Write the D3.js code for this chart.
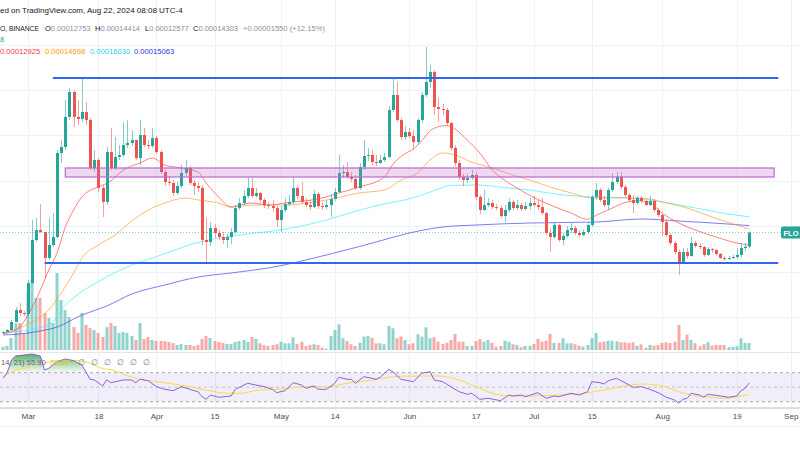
<!DOCTYPE html>
<html><head><meta charset="utf-8">
<script src="https://cdn.jsdelivr.net/npm/d3@7"></script>
<style>body{margin:0;background:#fff;overflow:hidden}svg{display:block;font-family:"Liberation Sans",Arial,sans-serif}</style>
</head><body>
<script>
// FLOKI/USDT daily, Binance. Prices in units of 1e-6 USDT, volume in billions
const firstDay = "2024-02-24";
const firstOpen = 32.4;
const closes = [33.5,35.7,44.5,57.7,54.4,53.3,
 87.4,134.8,145.8,143.6,115.0,129.3,138.1,230.6,237.2,270.3,297.8,270.3,268.1,275.8,267.0,214.1,222.9,192.1,176.7,231.7,214.1,226.2,228.4,239.4,241.6,244.9,225.1,250.4,239.4,238.3,247.1,
 231.7,209.7,198.7,197.6,186.6,194.3,208.6,214.1,197.6,194.3,192.1,134.8,132.6,148.0,142.5,138.1,134.8,138.1,143.6,170.0,175.5,183.3,192.1,183.3,186.6,178.9,173.3,172.2,170.0,156.8,
 167.8,174.4,176.7,192.1,183.3,176.7,173.3,171.1,185.5,172.2,171.1,173.3,180.0,187.7,208.6,209.7,204.2,202.0,192.1,215.2,227.3,228.4,220.7,219.6,222.9,226.2,278.0,294.5,267.0,248.2,253.7,
 249.3,242.7,267.0,294.5,308.8,319.8,281.3,279.1,278.0,263.7,236.1,219.6,204.2,200.9,203.1,206.4,182.2,167.8,173.3,175.5,171.1,170.0,161.2,167.8,176.7,170.0,173.3,168.9,172.2,175.5,
 173.3,171.1,164.5,142.5,138.1,151.3,134.8,139.2,145.8,148.0,142.5,140.3,143.6,151.3,182.2,189.9,178.9,173.3,189.9,198.7,204.2,193.2,184.4,178.9,175.5,181.1,177.8,173.3,177.8,167.8,162.3,
 154.6,140.3,131.5,121.6,110.6,121.6,117.2,131.5,128.2,127.1,118.3,124.9,123.8,119.4,115.0,113.9,115.0,116.1,118.3,126.0,127.53,143.03];
const highs = [34.6,36.8,46.7,61.0,65.4,56.6,
 90.8,156.8,159.0,174.5,143.6,159.0,164.5,233.9,244.9,289.0,302.2,300.0,289.0,312.1,286.8,269.2,233.9,225.1,195.4,237.2,258.1,248.2,239.4,264.8,267.0,255.9,244.9,267.0,258.1,244.9,258.1,
 249.3,233.9,211.9,205.3,200.9,198.7,217.4,222.9,216.3,200.9,198.7,195.4,159.0,154.6,152.4,145.8,143.6,141.4,148.0,173.3,181.1,190.0,204.2,204.2,192.1,187.7,181.1,176.7,178.9,172.2,
 172.2,181.1,184.4,204.2,194.3,198.7,181.1,178.9,189.9,187.7,176.7,178.9,185.5,192.1,228.4,217.4,220.7,209.7,206.4,219.6,244.9,236.1,233.9,228.4,228.4,230.6,282.4,313.2,308.8,269.2,260.3,
 258.1,255.9,269.2,297.8,347.4,327.5,322.0,291.2,284.6,280.2,264.8,239.4,222.9,207.5,207.5,211.9,209.7,184.4,189.9,181.1,178.9,174.4,173.3,173.3,181.1,178.9,178.9,175.6,176.7,181.1,
 183.3,178.9,181.1,165.6,148.0,154.6,152.4,142.5,150.2,153.5,150.2,145.8,146.9,154.6,184.4,197.6,192.1,183.3,192.1,208.6,209.7,209.7,195.4,186.6,184.4,183.3,183.3,179.9,183.3,180.0,170.0,
 163.4,156.8,142.5,133.7,123.8,125.9,125.9,138.1,133.7,131.5,128.2,127.1,126.0,124.9,120.5,117.2,117.2,118.3,126.0,131.5,131.5,144.14];
const lows = [31.3,32.4,34.6,44.5,51.1,51.1,
 51.1,86.3,132.6,142.5,93.0,112.8,127.1,137.0,219.6,233.9,267.0,259.3,261.5,264.8,261.5,211.9,209.7,187.7,160.1,173.3,211.9,211.9,222.9,226.2,236.1,238.3,222.9,217.4,237.2,235.0,236.1,
 229.5,207.5,194.3,194.3,183.3,184.4,192.1,205.3,195.4,184.4,187.7,129.3,110.6,128.2,137.0,134.8,130.4,126.0,130.4,141.4,167.8,173.3,181.1,181.1,181.1,175.6,170.0,168.9,165.6,149.1,
 143.6,165.6,172.2,174.4,180.0,174.4,171.1,167.8,170.0,168.9,167.8,168.9,160.1,177.8,186.6,203.1,202.0,198.7,189.9,189.9,211.9,221.8,217.4,216.3,218.5,220.7,225.1,275.8,264.8,244.9,244.9,
 247.1,233.9,239.4,263.7,292.3,302.2,272.5,264.8,272.5,261.5,233.9,216.3,200.9,194.3,197.6,200.9,178.9,163.4,166.7,171.1,168.9,167.8,159.0,154.6,165.6,167.8,167.8,166.7,167.8,167.8,
 171.1,167.8,162.3,140.3,121.6,135.9,132.6,129.3,137.0,142.5,140.3,138.1,139.2,141.4,149.1,178.9,176.7,171.1,167.8,187.7,196.5,191.0,182.2,176.7,164.5,173.3,175.5,172.2,172.2,165.6,160.1,
 139.2,138.1,129.3,119.4,96.3,109.5,113.9,116.1,126.0,124.9,116.1,117.2,120.5,117.2,113.9,111.7,112.8,113.9,113.9,115.0,122.7,125.77];
const volumes = [30,40,120,270,270,170,
 600,700,520,520,370,320,270,770,500,400,330,230,170,370,250,220,200,170,130,230,270,240,170,180,170,140,100,270,110,130,100,
 90,90,90,80,70,50,60,50,50,40,50,110,140,120,90,80,70,60,60,80,90,100,80,130,110,67,50,40,50,57,
 83,67,67,127,60,83,40,50,57,50,23,13,140,200,257,117,90,57,40,73,133,140,123,67,67,57,240,217,117,133,100,
 57,67,157,133,227,117,127,83,60,73,100,160,83,83,40,40,90,110,83,100,73,33,40,93,83,57,50,27,40,43,
 60,110,83,93,160,70,70,117,67,67,57,43,33,50,117,170,77,83,93,93,87,77,77,70,77,43,57,23,50,43,50,
 70,77,70,83,250,100,153,103,67,37,57,77,43,50,50,50,27,30,37,117,70,70];

// moving averages: [date, price]
const ma1 = [["2024-02-24",31.3],["2024-02-28",39.0],["2024-03-01",52.2],["2024-03-04",79.7],["2024-03-06",101.8],["2024-03-08",120.5],["2024-03-10",149.1],["2024-03-12",167.8],["2024-03-14",182.2],["2024-03-15",186.6],["2024-03-18",193.2],["2024-03-21",199.8],["2024-03-24",211.9],["2024-03-28",219.6],["2024-03-31",225.1],["2024-04-03",217.4],["2024-04-07",214.1],["2024-04-11",209.7],["2024-04-13",197.6],["2024-04-16",182.2],["2024-04-19",171.1],["2024-04-21",173.3],["2024-04-24",175.5],["2024-04-28",173.3],["2024-05-02",175.5],["2024-05-12",182.2],["2024-05-15",186.6],["2024-05-20",193.2],["2024-05-26",204.2],["2024-05-28",218.0],["2024-05-31",230.0],["2024-06-02",235.0],["2024-06-04",244.0],["2024-06-06",255.0],["2024-06-08",259.5],["2024-06-10",261.0],["2024-06-12",257.0],["2024-06-15",244.9],["2024-06-18",230.6],["2024-06-21",211.9],["2024-06-25",197.6],["2024-06-29",186.6],["2024-07-05",173.3],["2024-07-10",164.5],["2024-07-14",157.5],["2024-07-15",159.5],["2024-07-17",164.0],["2024-07-20",170.0],["2024-07-23",176.0],["2024-07-26",178.0],["2024-07-29",175.5],["2024-08-01",164.5],["2024-08-05",153.5],["2024-08-09",145.8],["2024-08-14",138.1],["2024-08-19",131.5],["2024-08-22",129.25]];
const ma2 = [["2024-02-24",32.4],["2024-03-02",44.5],["2024-03-06",57.7],["2024-03-09",76.4],["2024-03-12",98.5],["2024-03-14",115.0],["2024-03-18",129.3],["2024-03-22",140.3],["2024-03-26",155.7],["2024-03-30",167.8],["2024-04-03",175.5],["2024-04-08",181.1],["2024-04-11",178.9],["2024-04-16",175.5],["2024-04-19",171.1],["2024-04-24",173.3],["2024-05-02",173.3],["2024-05-12",178.9],["2024-05-20",186.6],["2024-05-26",189.9],["2024-05-30",200.9],["2024-06-03",208.6],["2024-06-06",222.9],["2024-06-09",230.6],["2024-06-12",228.4],["2024-06-16",220.7],["2024-06-21",214.1],["2024-06-26",206.4],["2024-06-30",200.9],["2024-07-05",193.2],["2024-07-10",186.6],["2024-07-15",181.1],["2024-07-20",181.1],["2024-07-27",181.1],["2024-08-01",176.7],["2024-08-07",170.0],["2024-08-13",160.1],["2024-08-19",151.3],["2024-08-22",146.98]];
const ma3 = [["2024-02-24",32.4],["2024-03-06",41.2],["2024-03-10",63.0],["2024-03-14",78.0],["2024-03-18",89.0],["2024-03-22",99.0],["2024-03-26",107.0],["2024-03-31",115.0],["2024-04-05",123.0],["2024-04-10",131.0],["2024-04-15",136.0],["2024-04-19",139.0],["2024-04-24",142.0],["2024-04-28",144.0],["2024-05-12",156.8],["2024-05-20",167.8],["2024-05-27",175.5],["2024-05-31",179.0],["2024-06-04",184.4],["2024-06-08",191.0],["2024-06-11",195.0],["2024-06-17",195.4],["2024-06-25",192.1],["2024-06-30",189.9],["2024-07-08",184.4],["2024-07-16",182.2],["2024-07-24",181.1],["2024-08-01",176.7],["2024-08-09",170.0],["2024-08-17",163.4],["2024-08-22",160.30]];
const ma4 = [["2024-02-24",30.2],["2024-02-28",31.3],["2024-03-04",34.6],["2024-03-08",39.0],["2024-03-14",52.2],["2024-03-20",62.1],["2024-03-26",75.3],["2024-04-03",85.2],["2024-04-11",94.0],["2024-04-19",98.5],["2024-04-28",104.0],["2024-05-12",118.3],["2024-05-24",132.6],["2024-06-01",142.5],["2024-06-09",149.1],["2024-06-17",151.3],["2024-06-30",153.5],["2024-07-16",154.6],["2024-07-27",157.9],["2024-08-05",155.7],["2024-08-17",152.4],["2024-08-22",150.63]];

const rsi = [["2024-02-24",62.3],["2024-02-25",70],["2024-02-26",87.5],["2024-02-27",93],["2024-02-29",94.4],["2024-03-02",95.8],["2024-03-04",93],["2024-03-05",73.7],["2024-03-06",76],["2024-03-08",85],["2024-03-10",88.9],["2024-03-12",86.6],["2024-03-14",80.6],["2024-03-16",60.9],["2024-03-17",60],["2024-03-19",51.7],["2024-03-20",60],["2024-03-21",56.2],["2024-03-24",60],["2024-03-26",60],["2024-03-27",56.2],["2024-03-28",60.9],["2024-03-30",59],["2024-04-01",50.7],["2024-04-03",47.1],["2024-04-05",45.2],["2024-04-07",50.7],["2024-04-09",47.1],["2024-04-11",43.8],["2024-04-12",36.9],["2024-04-13",33.3],["2024-04-14",39.2],["2024-04-16",36.1],["2024-04-19",37.9],["2024-04-20",47.1],["2024-04-23",55.4],["2024-04-25",53],["2024-04-27",50.7],["2024-04-29",47.1],["2024-04-30",42.4],["2024-05-02",45.2],["2024-05-04",56.2],["2024-05-06",53],["2024-05-07",48.5],["2024-05-09",51.7],["2024-05-10",47.1],["2024-05-12",47.1],["2024-05-14",55.4],["2024-05-15",63.7],["2024-05-17",60.9],["2024-05-18",60.9],["2024-05-19",55.4],["2024-05-21",64.5],["2024-05-23",62.3],["2024-05-24",60.9],["2024-05-25",63.7],["2024-05-27",74.7],["2024-05-28",71.4],["2024-05-30",60.9],["2024-06-02",57.6],["2024-06-04",69.2],["2024-06-06",71.4],["2024-06-07",60],["2024-06-09",57.6],["2024-06-11",50.7],["2024-06-13",43.8],["2024-06-15",40.2],["2024-06-16",41.6],["2024-06-18",33.3],["2024-06-20",34.7],["2024-06-23",31.4],["2024-06-25",39.2],["2024-06-26",37.9],["2024-06-28",39.2],["2024-06-29",36.9],["2024-07-02",42.4],["2024-07-04",34.7],["2024-07-06",37.9],["2024-07-07",36.9],["2024-07-10",41.6],["2024-07-12",39.2],["2024-07-14",43.8],["2024-07-15",57.6],["2024-07-17",56.2],["2024-07-18",54.4],["2024-07-19",59],["2024-07-21",62.3],["2024-07-24",53],["2024-07-25",49.9],["2024-07-27",50.7],["2024-07-29",47.1],["2024-07-31",42.4],["2024-08-02",36.1],["2024-08-04",32.3],["2024-08-05",27.8],["2024-08-06",33.3],["2024-08-07",34.7],["2024-08-08",41.6],["2024-08-10",39.2],["2024-08-11",36.1],["2024-08-12",40.2],["2024-08-15",37.9],["2024-08-17",36.1],["2024-08-19",37.9],["2024-08-20",45.2],["2024-08-21",48.5],["2024-08-22",55.8]];
const rsiMa = [["2024-02-24",64],["2024-02-26",71.4],["2024-03-01",77.4],["2024-03-03",82],["2024-03-05",83.8],["2024-03-07",85.2],["2024-03-10",87.5],["2024-03-13",86.6],["2024-03-16",83],["2024-03-18",77.4],["2024-03-22",72.8],["2024-03-26",63.7],["2024-03-30",59],["2024-04-03",56.2],["2024-04-08",51.7],["2024-04-13",46.1],["2024-04-18",41.6],["2024-04-21",41.6],["2024-04-26",46.1],["2024-04-30",47.1],["2024-05-03",48.5],["2024-05-07",50.7],["2024-05-12",50.7],["2024-05-17",55.4],["2024-05-22",59],["2024-05-27",63.7],["2024-05-30",65.1],["2024-06-04",65.4],["2024-06-08",65.4],["2024-06-13",60],["2024-06-17",50.7],["2024-06-21",41.6],["2024-06-25",37.9],["2024-07-01",37.9],["2024-07-07",39.2],["2024-07-12",40.6],["2024-07-17",45.2],["2024-07-22",50.7],["2024-07-27",54.4],["2024-08-01",51.7],["2024-08-05",43.8],["2024-08-08",39.2],["2024-08-13",36.1],["2024-08-16",34.7],["2024-08-20",37.9],["2024-08-22",39.62]];

// drawings
const resistance = {price: 313.2, from: "2024-03-07", to: "2024-08-29"};
const support = {price: 109.5, from: "2024-03-05", to: "2024-08-29"};
const zone = {top: 214.1, bottom: 204.2, from: "2024-03-10", to: "2024-08-28"};
const gridPrices = [50, 100, 150, 200, 250, 300, 350];
const tickDates = ["2024-03-01","2024-03-18","2024-04-01","2024-04-15","2024-05-01","2024-05-14","2024-06-01","2024-06-17","2024-07-01","2024-07-15","2024-08-01","2024-08-19","2024-09-01"];

const UP = "#26a69a", DOWN = "#ef5350";
const parse = d3.utcParse("%Y-%m-%d");

const width = 800, height = 450;
const svg = d3.select("body").append("svg").attr("width", width).attr("height", height);

const x = d3.scaleUtc().domain([parse("2024-03-01"), parse("2024-09-01")]).range([28, 790.7]);
const y = d3.scaleLinear().domain([50, 300]).range([317, 90]);
const yVol = d3.scaleLinear().domain([0, 1000]).range([350, 250]);
const yRsi = d3.scaleLinear().domain([30, 70]).range([401.7, 372.7]);

const start = parse(firstDay);
const days = d3.utcDay.range(start, d3.utcDay.offset(start, closes.length));
const candles = closes.map((c, i) => ({
  date: days[i], open: i ? closes[i-1] : firstOpen, close: c, high: highs[i], low: lows[i], vol: volumes[i]
}));
const pts = arr => arr.map(d => ({date: parse(d[0]), v: d[1]}));

// grid
const grid = svg.append("g").attr("stroke", "#eef1f6").attr("stroke-width", 1);
grid.selectAll(".hg").data(gridPrices).join("line")
  .attr("x1", 0).attr("x2", width)
  .attr("y1", d => Math.round(y(d)) + 0.5).attr("y2", d => Math.round(y(d)) + 0.5);
grid.selectAll(".vg").data(tickDates).join("line")
  .attr("x1", d => Math.round(x(parse(d))) + 0.5).attr("x2", d => Math.round(x(parse(d))) + 0.5)
  .attr("y1", 0).attr("y2", 408);

// volume
svg.append("g").selectAll("rect").data(candles).join("rect")
  .attr("x", d => Math.round(x(d.date)) - 1.5).attr("width", 3)
  .attr("y", d => yVol(d.vol)).attr("height", d => 350 - yVol(d.vol))
  .attr("fill", d => d.close >= d.open ? UP : DOWN).attr("opacity", 0.5);

// moving averages
const line = d3.line().x(d => x(d.date)).y(d => y(d.v)).curve(d3.curveMonotoneX);
[[ma4, "#4444f0"], [ma3, "#3cf0ff"], [ma2, "#ff9c3a"], [ma1, "#ff4a4a"]].forEach(([data, c]) => {
  svg.append("path").datum(pts(data)).attr("d", line)
    .attr("fill", "none").attr("stroke", c).attr("stroke-width", 1).attr("opacity", 0.7);
});

// candles
const cg = svg.append("g");
cg.selectAll("line").data(candles).join("line")
  .attr("x1", d => Math.round(x(d.date)) + 0.5).attr("x2", d => Math.round(x(d.date)) + 0.5)
  .attr("y1", d => y(d.high)).attr("y2", d => y(d.low))
  .attr("stroke", d => d.close >= d.open ? UP : DOWN).attr("stroke-width", 1).attr("opacity", 0.55);
cg.selectAll("rect").data(candles).join("rect")
  .attr("x", d => Math.round(x(d.date)) - 1).attr("width", 3)
  .attr("y", d => y(Math.max(d.open, d.close)))
  .attr("height", d => Math.max(1, Math.abs(y(d.open) - y(d.close))))
  .attr("fill", d => d.close >= d.open ? UP : DOWN);

// zone and horizontal levels
svg.append("rect")
  .attr("x", x(parse(zone.from))).attr("width", x(parse(zone.to)) - x(parse(zone.from)))
  .attr("y", y(zone.top)).attr("height", y(zone.bottom) - y(zone.top))
  .attr("fill", "rgba(186,104,200,0.25)").attr("stroke", "#bb6acd").attr("stroke-width", 1.2);
[resistance, support].forEach(l => {
  svg.append("line").attr("x1", x(parse(l.from))).attr("x2", x(parse(l.to)))
    .attr("y1", y(l.price)).attr("y2", y(l.price))
    .attr("stroke", "#2f66f5").attr("stroke-width", 2);
});

// last price line + symbol label
const last = candles[candles.length - 1];
svg.append("line").attr("x1", 0).attr("x2", 781).attr("y1", y(last.close)).attr("y2", y(last.close))
  .attr("stroke", UP).attr("stroke-dasharray", "1,2").attr("opacity", 0.6);
svg.append("rect").attr("x", 781).attr("y", y(last.close) - 6).attr("width", 40).attr("height", 12)
  .attr("rx", 2).attr("fill", UP);
svg.append("text").attr("x", 783.5).attr("y", y(last.close) + 3).attr("font-size", 7.5)
  .attr("font-weight", "bold").attr("fill", "#fff").text("FLO");

// RSI pane
svg.append("line").attr("x1", 0).attr("x2", width).attr("y1", 352.5).attr("y2", 352.5).attr("stroke", "#e3e6ec");
svg.append("rect").attr("x", 0).attr("width", width).attr("y", yRsi(70)).attr("height", yRsi(30) - yRsi(70))
  .attr("fill", "rgba(126,87,194,0.1)");
svg.selectAll(".rl").data([70, 50, 30]).join("line")
  .attr("x1", 0).attr("x2", width).attr("y1", d => yRsi(d)).attr("y2", d => yRsi(d))
  .attr("stroke", "#9598a1").attr("stroke-dasharray", "3,3").attr("opacity", d => d === 50 ? 0.5 : 0.8);

const defs = svg.append("defs");
const grad = defs.append("linearGradient").attr("id", "ob").attr("gradientUnits", "userSpaceOnUse")
  .attr("x1", 0).attr("x2", 0).attr("y1", yRsi(100)).attr("y2", yRsi(70));
grad.append("stop").attr("offset", 0).attr("stop-color", "#2e9e3e").attr("stop-opacity", 0.95);
grad.append("stop").attr("offset", 1).attr("stop-color", "#4caf50").attr("stop-opacity", 0.05);
defs.append("clipPath").attr("id", "obclip").append("rect")
  .attr("x", 0).attr("y", 340).attr("width", width).attr("height", yRsi(70) - 340);

const rsiPts = pts(rsi);
svg.append("path").datum(rsiPts).attr("clip-path", "url(#obclip)")
  .attr("d", d3.area().x(d => x(d.date)).y0(yRsi(70)).y1(d => yRsi(d.v)))
  .attr("fill", "url(#ob)");
svg.append("path").datum(pts(rsiMa))
  .attr("d", d3.line().x(d => x(d.date)).y(d => yRsi(d.v)).curve(d3.curveMonotoneX))
  .attr("fill", "none").attr("stroke", "#fbd94a").attr("stroke-width", 1);
svg.append("path").datum(rsiPts)
  .attr("d", d3.line().x(d => x(d.date)).y(d => yRsi(d.v)))
  .attr("fill", "none").attr("stroke", "#8a64d6").attr("stroke-width", 1);

svg.append("line").attr("x1", 0).attr("x2", width).attr("y1", 408).attr("y2", 408)
  .attr("stroke", "#cfd2d9").attr("stroke-width", 1.5);
svg.append("line").attr("x1", 0).attr("x2", width).attr("y1", 426.5).attr("y2", 426.5)
  .attr("stroke", "#f0f2f5");

// time axis
const axis = d3.axisBottom(x).tickValues(tickDates.map(parse)).tickSize(0).tickPadding(0)
  .tickFormat(d => d.getUTCDate() === 1 ? d3.utcFormat("%b")(d) : d3.utcFormat("%-d")(d));
const ax = svg.append("g").attr("transform", "translate(0,413)").call(axis);
ax.select(".domain").remove();
ax.selectAll("text").attr("font-size", 8).attr("fill", "#4a4d57")
  .attr("font-family", "Liberation Sans, Arial, sans-serif");

// legends
const txt = (xp, yp, s, c, fs) => svg.append("text").attr("x", xp).attr("y", yp)
  .attr("font-size", fs || 8).attr("fill", c).text(s);
txt(0, 13, "ed on TradingView.com, Aug 22, 2024 08:08 UTC-4", "#131722");
txt(0, 31, "O, BINANCE", "#131722", 7.5).attr("textLength", 39).attr("lengthAdjust", "spacingAndGlyphs");
const ohlc = [["O", 45, "0.00012753"], ["H", 95, "0.00014414"], ["L", 145, "0.00012577"], ["C", 193, "0.00014303"]];
ohlc.forEach(([k, xp, v]) => {
  const t = txt(xp, 31, "", "#131722", 7.5);
  t.append("tspan").text(k);
  t.append("tspan").attr("fill", "#8c8f99").text(v);
});
txt(243, 31, "+0.00001550 (+12.15%)", "#8c8f99", 7.6);
txt(0, 42, "8", "#26a69a", 7.5);
const maLegend = [["0.00012925", "#f23645", 0], ["0.00014698", "#ff9800", 45], ["0.00016030", "#22d3ee", 90], ["0.00015063", "#2e2ee6", 134]];
maLegend.forEach(([s, c, xp]) => txt(xp, 54, s, c, 7.6));

const rl = txt(1, 365, "", "#5d606b", 7.6);
rl.append("tspan").text("14, 21) ");
rl.append("tspan").attr("fill", "#7e57c2").text("55.80");
txt(50, 365, "39.62", "#e9c31a", 7.6);
[78, 91, 104, 117, 130, 143].forEach(xp => txt(xp, 365, "\u2205", "#787b86"));
</script>
</body></html>
